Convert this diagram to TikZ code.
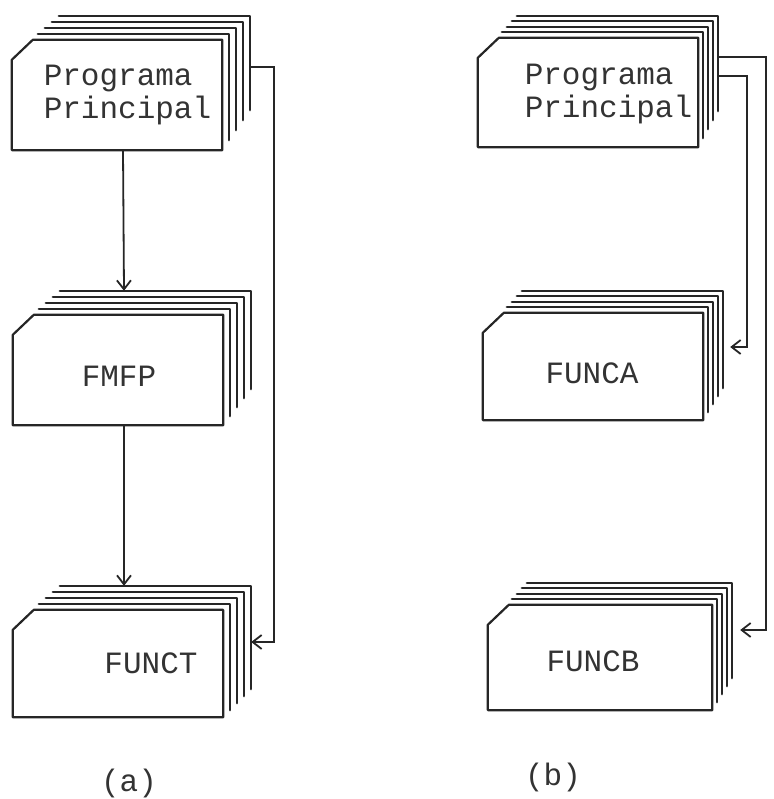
\documentclass[tikz,border=0pt]{standalone}
\usepackage{fontspec}
\setmonofont{Liberation Mono}
\usetikzlibrary{arrows.meta,calc}

\tikzset{
  card/.style={line width=2.2pt,line join=round,line cap=round,black!85},
  cardbox/.style={inner sep=0pt,minimum width=#1},
  cardtext/.style={font=\ttfamily\fontsize{31}{33}\selectfont,align=left,inner sep=0pt,text=black!80},
  link/.style={line width=1.8pt,black!85},
  calls/.style={-{Straight Barb[length=9pt,width=14pt,line width=1.8pt]}}
}

\begin{document}
\begin{tikzpicture}[x=1pt,y=-1pt]
\useasboundingbox (0,0) rectangle (773,799);

% left column: main program, FMFP, FUNCT
\node[cardbox=210pt,minimum height=110pt,
  label={[cardtext,xshift=10.5pt]center:Programa\\Principal}] (pp) at (117,95) {};
\node[cardbox=210pt,minimum height=110pt,
  label={[cardtext,xshift=1pt,yshift=-6.5pt]center:FMFP}] (fmfp) at (118,370) {};
\node[cardbox=210pt,minimum height=107pt,
  label={[cardtext,xshift=33pt]center:FUNCT}] (funct) at (118,663.5) {};

% right column: main program, FUNCA, FUNCB
\node[cardbox=220pt,minimum height=109pt,
  label={[cardtext,xshift=20.5pt,yshift=-1.5pt]center:Programa\\Principal}] (ppb) at (588,92.5) {};
\node[cardbox=220pt,minimum height=107pt,
  label={[cardtext,xshift=-1pt,yshift=-7pt]center:FUNCA}] (funca) at (593,366.5) {};
\node[cardbox=224pt,minimum height=105pt,
  label={[cardtext,xshift=-7pt,yshift=-4pt]center:FUNCB}] (funcb) at (600,657.5) {};

\node[cardtext] (capa) at (129,783) {(a)};
\node[cardtext] (capb) at (553,777) {(b)};

% card decks: front card with cut corner, four cards behind it
\foreach \n/\dx/\dy/\cut in {pp/7/6/10,fmfp/7/6/9,funct/7/6/7,ppb/5/5.5/9,funca/5/5.5/8,funcb/5/5.5/8}{
  \draw[card] ($(\n.north west)+(0,20)$) -- ($(\n.north west)+(21,0)$)
    -- (\n.north east) -- (\n.south east) -- (\n.south west) -- cycle;
  \foreach \k in {1,...,4}
    \draw[card] ($(\n.north west)+(21+\k*\dx-2,-\k*\dy)$)
      -- ($(\n.north east)+(\k*\dx,-\k*\dy)$)
      -- ($(\n.south east)+(\k*\dx,-\k*\cut)$);
}

% calls
\draw[link,calls] ([xshift=6pt]pp.south) -- ([xshift=6pt,yshift=24pt]fmfp.north);
\draw[link,calls] ([xshift=6pt]fmfp.south) -- ([xshift=6pt,yshift=24pt]funct.north);
\draw[link,calls] ([xshift=28pt,yshift=28pt]pp.east) -- ++(24,0)
  |- ([xshift=28pt,yshift=21.5pt]funct.east);

\draw[link,calls] ([xshift=20pt,yshift=35.5pt]ppb.east) -- ++(48,0)
  |- ([xshift=28pt,yshift=27.5pt]funcb.east);
\draw[link,calls] ([xshift=20pt,yshift=16.5pt]ppb.east) -- ++(29,0)
  |- ([xshift=27pt,yshift=19.5pt]funca.east);
\end{tikzpicture}
\end{document}
